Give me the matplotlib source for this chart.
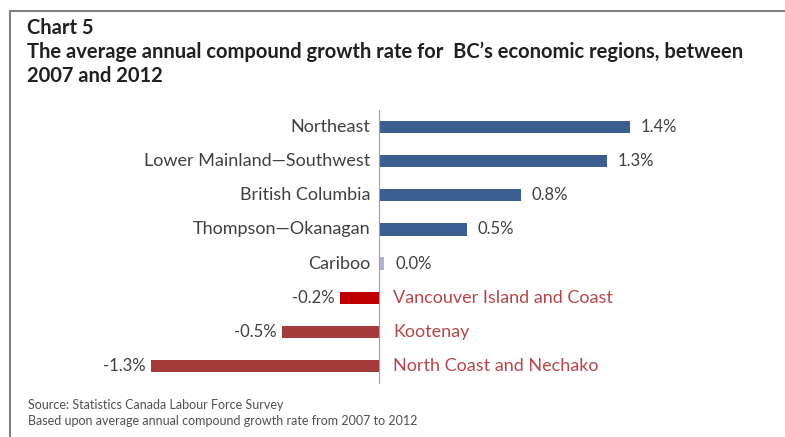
import matplotlib.pyplot as plt
from matplotlib.lines import Line2D

plt.rcParams['font.family'] = ['Lato', 'DejaVu Sans']

regions = ['Northeast', 'Lower Mainland\u2014Southwest', 'British Columbia',
           'Thompson\u2014Okanagan', 'Cariboo', 'Vancouver Island and Coast',
           'Kootenay', 'North Coast and Nechako']
growth = [1.40, 1.27, 0.79, 0.49, 0.03, -0.22, -0.54, -1.27]
bar_colors = ['#3b5e91', '#3b5e91', '#3b5e91', '#3b5e91', '#a9b7d4',
              '#c00000', '#a33b3b', '#a33b3b']

fig = plt.figure(figsize=(7.85, 4.37), dpi=100)
ax = fig.add_axes([0.1516, 0.1236, 0.6968, 0.6247])

y = list(range(len(regions)))
ax.barh(y, growth, height=0.36, color=bar_colors)
ax.set_xlim(-1.45, 1.6)
ax.set_ylim(len(regions) - 0.5, -0.5)

for i, (name, v) in enumerate(zip(regions, growth)):
    label = f'{v:.1f}%'
    if v >= 0:
        ax.text(-0.05, i, name, ha='right', va='center', fontsize=13, color='#404040')
        ax.text(v + 0.06, i, label, ha='left', va='center', fontsize=12, color='#404040')
    else:
        ax.text(0.08, i, name, ha='left', va='center', fontsize=13, color='#b5474a')
        ax.text(v - 0.03, i, label, ha='right', va='center', fontsize=12, color='#404040')

for s in ['top', 'right', 'bottom']:
    ax.spines[s].set_visible(False)
ax.spines['left'].set_position(('data', 0))
ax.spines['left'].set_color('#a0a0a0')
ax.set_xticks([])
ax.set_yticks([])

# frame around the chart (left and top edges)
fig.add_artist(Line2D([0.013, 0.013], [0.0, 0.974], color='#808080', lw=1.5))
fig.add_artist(Line2D([0.013, 1.0], [0.974, 0.974], color='#808080', lw=1.5))

title_kw = dict(fontsize=14.5, fontweight='bold', va='center', color='#202020')
fig.text(0.034, 0.937, 'Chart 5', **title_kw)
fig.text(0.034, 0.881, "The average annual compound growth rate for  BC\u2019s economic regions, between",
         **title_kw)
fig.text(0.034, 0.825, '2007 and 2012', **title_kw)

fig.text(0.036, 0.073, 'Source: Statistics Canada Labour Force Survey', fontsize=9, va='center',
         color='#505050')
fig.text(0.036, 0.036, 'Based upon average annual compound growth rate from 2007 to 2012', fontsize=9,
         va='center', color='#505050')

fig.savefig('out.png', dpi=100)
